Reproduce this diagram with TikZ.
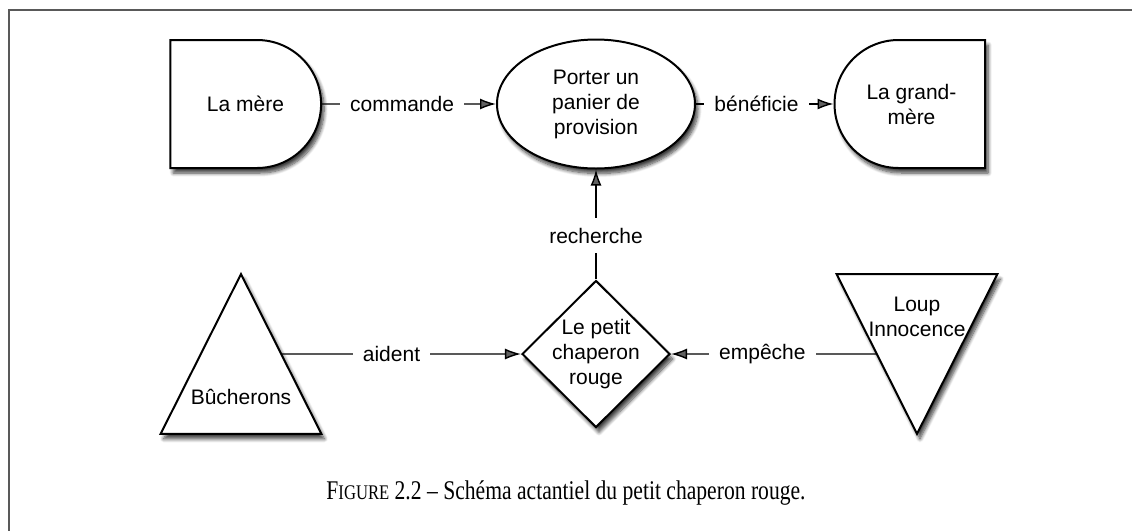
\documentclass[tikz,border=0pt]{standalone}
\usepackage{fontspec}
\usepackage{graphicx}
\setmainfont{Liberation Serif}
\setsansfont{Liberation Sans}
\usetikzlibrary{shapes.geometric,shapes.misc,arrows.meta,shadows.blur,calc}

\begin{document}
\begin{tikzpicture}[x=0.5pt, y=-0.5pt,
    actor/.style = {draw, fill=white, line width=1pt,
        blur shadow={shadow xshift=1.5pt, shadow yshift=-2.5pt, shadow blur steps=8, shadow opacity=75}},
    word/.style = {font=\sffamily\fontsize{10.5}{12.5}\selectfont, align=center},
    tribox/.style = {minimum width=80pt, minimum height=79.5pt, inner sep=0pt},
    verb/.style = {word, fill=white, inner xsep=5pt, inner ysep=5pt},
    link/.style = {line width=0.7pt, -{Latex[length=8pt,width=5.5pt]}}]

    \useasboundingbox (0,0) rectangle (1132,531);

    % frame
    \draw[line width=1pt, black!65] (9,531) -- (9,10) -- (1132,10);

    % top row
    \node[actor, word, rounded rectangle, rounded rectangle left arc=none,
          minimum width=82pt, minimum height=64pt] (mere) at (245.5,104) {La mère};
    \node[actor, word, ellipse, minimum width=99pt, minimum height=64.5pt,
          inner sep=0pt] (panier) at (596,104) {Porter un\\panier de\\provision};
    \node[actor, word, rounded rectangle, rounded rectangle right arc=none,
          minimum width=82pt, minimum height=64pt] (grandmere) at (911.5,104) {La grand-\\mère};

    % bottom row
    \node[tribox] (bucherons) at (241,354) {};
    \path[actor] (bucherons.north) -- (bucherons.south east) -- (bucherons.south west) -- cycle;
    \node[word] (bucherons-txt) at (241,397) {Bûcherons};
    \coordinate (bucherons-e) at ($(bucherons.north)!0.5!(bucherons.south east)$);

    \node[actor, word, diamond, minimum width=74pt, minimum height=73.5pt,
          inner sep=-3pt] (chaperon) at (596,354) {Le petit\\chaperon\\rouge};

    \node[tribox] (loup) at (917,354) {};
    \path[actor] (loup.north west) -- (loup.north east) -- (loup.south) -- cycle;
    \node[word] (loup-txt) at (917,317) {Loup\\Innocence};
    \coordinate (loup-w) at ($(loup.north west)!0.5!(loup.south)$);

    % connectors
    \draw[link] (mere) -- node[verb, pos=0.46] (commande) {commande} (panier);
    \draw[link] (panier) -- node[verb, pos=0.44] (beneficie) {bénéficie} (grandmere);
    \draw[link] (chaperon) -- node[verb, pos=0.4] (recherche) {recherche} (panier);
    \draw[link] (bucherons-e) -- node[verb, pos=0.46] (aident) {aident} (chaperon);
    \draw[link] (loup-w) -- node[verb, pos=0.556] (empeche) {empêche} (chaperon);

    % caption
    \node[font=\fontsize{13.5}{16}\selectfont] (caption) at (566,493)
        {\scalebox{0.8}[1]{F{\fontsize{10.4}{12}\selectfont IGURE} 2.2 -- Schéma actantiel du petit chaperon rouge.}};

\end{tikzpicture}
\end{document}
